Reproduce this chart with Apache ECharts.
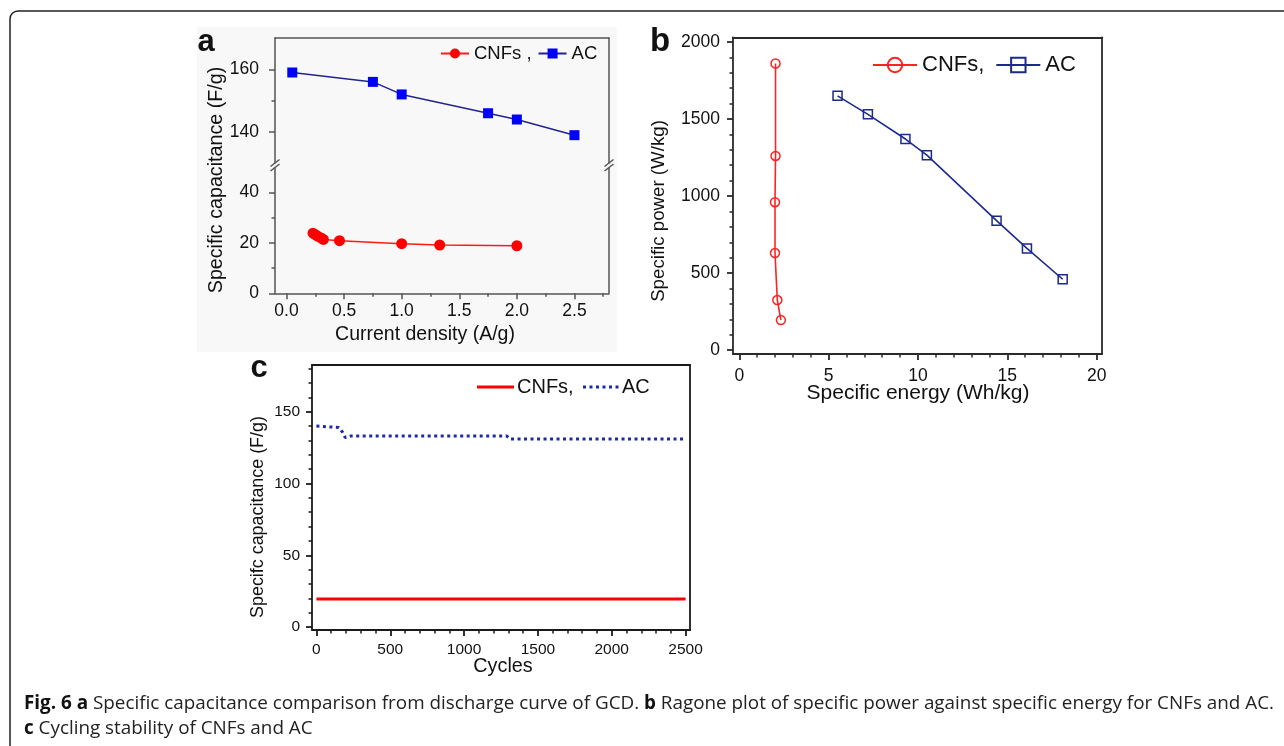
<!DOCTYPE html>
<html>
<head>
<meta charset="utf-8">
<script src="https://cdn.jsdelivr.net/npm/echarts@6/dist/echarts.min.js"></script>
<style>html,body{margin:0;padding:0;background:#fff;}#main{width:1284px;height:746px;}</style>
</head>
<body>
<div id="main"></div>
<script>
// ---------- data ----------
// Panel a: specific capacitance vs current density
const aCurrentCNF = [0.23, 0.25, 0.27, 0.30, 0.32, 0.46, 1.0, 1.33, 2.0];
const aCapCNF     = [23.9, 23.3, 22.7, 22.0, 21.4, 20.9, 19.7, 19.2, 18.9];
const aCurrentAC  = [0.05, 0.75, 1.0, 1.75, 2.0, 2.5];
const aCapAC      = [159, 156, 152, 146, 144, 139];
// Panel b: Ragone plot
const bEnergyCNF  = [2.03, 2.03, 2.0, 2.0, 2.13, 2.33];
const bPowerCNF   = [1860, 1260, 960, 630, 325, 195];
const bEnergyAC   = [5.5, 7.2, 9.3, 10.5, 14.4, 16.1, 18.1];
const bPowerAC    = [1650, 1530, 1370, 1265, 840, 660, 460];
// Panel c: cycling stability
const cCyclesCNF  = [0, 2500];
const cCapCNF     = [19.5, 19.5];
const cCyclesAC   = [0, 150, 175, 195, 230, 1290, 1310, 2500];
const cCapAC      = [140, 139, 136, 132, 133, 133, 131, 131];
// tick labels
const aXTicks = [0, 0.5, 1.0, 1.5, 2.0, 2.5];
const aYTicksHigh = [140, 160];
const aYTicksLow = [0, 20, 40];
const bXTicks = [0, 5, 10, 15, 20];
const bYTicks = [0, 500, 1000, 1500, 2000];
const cXTicks = [0, 500, 1000, 1500, 2000, 2500];
const cYTicks = [0, 50, 100, 150];
const aXMinor = [0.25, 0.75, 1.25, 1.75, 2.25, 2.75];
const aYMinorHigh = [150];
const aYMinorLow = [10, 30];

function minorTicks(start, end, step, majors) {
  const out = [];
  for (let v = start; v <= end + 1e-9; v += step) {
    const r = Math.round(v * 1000) / 1000;
    if (!majors.some(m => Math.abs(m - r) < 1e-9)) out.push(r);
  }
  return out;
}
const bXMinor = minorTicks(0, 20, 1, bXTicks);
const bYMinor = minorTicks(0, 2000, 100, bYTicks);
const cXMinor = minorTicks(0, 2500, 100, cXTicks);
const cYMinor = minorTicks(0, 180, 10, cYTicks);

const zip = (xs, ys) => xs.map((x, i) => [x, ys[i]]);

// ---------- layout ----------
const FONT = 'Liberation Sans, Arial, sans-serif';
const grids = [
  {left: 275, top: 38,    width: 334, height: 125.4},  // a upper
  {left: 275, top: 167.5, width: 334, height: 125.8},  // a lower
  {left: 733, top: 37.3,  width: 369, height: 316.7},  // b
  {left: 312, top: 365,   width: 378, height: 265}     // c
];

function lineAxis(extra, color, w) {
  return Object.assign({
    type: 'value', axisLine: {show: true, onZero: false, lineStyle: {color: color, width: w}},
    axisTick: {show: false}, axisLabel: {show: false}, splitLine: {show: false}
  }, extra);
}
function mainAxis(extra, color, w, ticks, fontSize, margin, fmt, tickLen) {
  return Object.assign({
    type: 'value',
    axisLine: {show: true, onZero: false, lineStyle: {color: color, width: w}},
    axisTick: {show: true, length: tickLen || 6, customValues: ticks, lineStyle: {color: color, width: w}},
    axisLabel: {show: true, customValues: ticks, fontSize: fontSize, fontFamily: FONT, color: '#111', margin: margin,
                formatter: fmt || (v => String(v))},
    splitLine: {show: false}
  }, extra);
}
function minorAxis(extra, color, w, ticks, len) {
  return Object.assign({
    type: 'value',
    axisLine: {show: false, onZero: false},
    axisTick: {show: true, length: len || 3, customValues: ticks, lineStyle: {color: color, width: w}},
    axisLabel: {show: false},
    splitLine: {show: false}
  }, extra);
}

const aCol = '#555', bCol = '#2a2a2a', cCol = '#1a1a1a';
const aX = {min: -0.1, max: 2.8};
const bX = {min: -0.35, max: 20.3};
const bY = {min: -25, max: 2030};
const cX = {min: -30, max: 2530};
const cY = {min: -2, max: 182.5};

const xAxis = [
  lineAxis(Object.assign({gridIndex: 0, position: 'top'}, aX), aCol, 1.5),                                      // 0
  mainAxis(Object.assign({gridIndex: 1, position: 'bottom'}, aX), aCol, 1.5, aXTicks, 17.5, 9, v => v.toFixed(1)), // 1
  minorAxis(Object.assign({gridIndex: 1, position: 'bottom'}, aX), aCol, 1.5, aXMinor, 3.5),                     // 2
  mainAxis(Object.assign({gridIndex: 2, position: 'bottom'}, bX), bCol, 1.8, bXTicks, 17.5, 13),                 // 3
  minorAxis(Object.assign({gridIndex: 2, position: 'bottom'}, bX), bCol, 1.5, bXMinor, 3.5),                     // 4
  lineAxis(Object.assign({gridIndex: 2, position: 'top'}, bX), bCol, 1.8),                                        // 5
  mainAxis(Object.assign({gridIndex: 3, position: 'bottom'}, cX), cCol, 1.8, cXTicks, 15.5, 12),                 // 6
  minorAxis(Object.assign({gridIndex: 3, position: 'bottom'}, cX), cCol, 1.5, cXMinor, 3.5),                     // 7
  lineAxis(Object.assign({gridIndex: 3, position: 'top'}, cX), cCol, 1.8)                                         // 8
];
const yAxis = [
  mainAxis({gridIndex: 0, position: 'left', min: 130, max: 170}, aCol, 1.5, aYTicksHigh, 17.5, 16), // 0
  minorAxis({gridIndex: 0, position: 'left', min: 130, max: 170}, aCol, 1.5, aYMinorHigh, 3.5),     // 1
  lineAxis({gridIndex: 0, position: 'right', min: 130, max: 170}, aCol, 1.5),                       // 2
  mainAxis({gridIndex: 1, position: 'left', min: 0, max: 50}, aCol, 1.5, aYTicksLow, 17.5, 16),     // 3
  minorAxis({gridIndex: 1, position: 'left', min: 0, max: 50}, aCol, 1.5, aYMinorLow, 3.5),         // 4
  lineAxis({gridIndex: 1, position: 'right', min: 0, max: 50}, aCol, 1.5),                          // 5
  mainAxis(Object.assign({gridIndex: 2, position: 'left'}, bY), bCol, 1.8, bYTicks, 17.5, 13),      // 6
  minorAxis(Object.assign({gridIndex: 2, position: 'left'}, bY), bCol, 1.5, bYMinor, 3.5),          // 7
  lineAxis(Object.assign({gridIndex: 2, position: 'right'}, bY), bCol, 1.8),                        // 8
  mainAxis(Object.assign({gridIndex: 3, position: 'left'}, cY), cCol, 1.8, cYTicks, 15.5, 12),      // 9
  minorAxis(Object.assign({gridIndex: 3, position: 'left'}, cY), cCol, 1.5, cYMinor, 3.5),          // 10
  lineAxis(Object.assign({gridIndex: 3, position: 'right'}, cY), cCol, 1.8)                         // 11
];

const C_RED = '#ff0000', C_DOT = '#1a2aaa';
const series = [
  {name: 'a_CNFs', type: 'line', xAxisIndex: 1, yAxisIndex: 3, data: zip(aCurrentCNF, aCapCNF),
   symbol: 'circle', symbolSize: 11, itemStyle: {color: '#ff0000'}, lineStyle: {color: '#ff1a1a', width: 1.5}},
  {name: 'a_AC', type: 'line', xAxisIndex: 0, yAxisIndex: 0, data: zip(aCurrentAC, aCapAC),
   symbol: 'rect', symbolSize: 10, itemStyle: {color: '#0000ff'}, lineStyle: {color: '#23238f', width: 1.5}},
  {name: 'b_CNFs', type: 'line', xAxisIndex: 3, yAxisIndex: 6, data: zip(bEnergyCNF, bPowerCNF),
   symbol: 'circle', symbolSize: 9, itemStyle: {color: 'rgba(0,0,0,0)', borderColor: '#ff2222', borderWidth: 1.5},
   lineStyle: {color: '#ff2222', width: 1.6}},
  {name: 'b_AC', type: 'line', xAxisIndex: 3, yAxisIndex: 6, data: zip(bEnergyAC, bPowerAC),
   symbol: 'rect', symbolSize: 9, itemStyle: {color: 'rgba(0,0,0,0)', borderColor: '#1c2a8c', borderWidth: 1.5},
   lineStyle: {color: '#1c2a8c', width: 1.6}},
  {name: 'c_CNFs', type: 'line', xAxisIndex: 6, yAxisIndex: 9, data: zip(cCyclesCNF, cCapCNF),
   symbol: 'none', lineStyle: {color: C_RED, width: 3}, itemStyle: {color: C_RED}},
  {name: 'c_AC', type: 'line', xAxisIndex: 6, yAxisIndex: 9, data: zip(cCyclesAC, cCapAC),
   symbol: 'none', lineStyle: {color: C_DOT, width: 3, type: [3, 3.5], cap: 'butt'}, itemStyle: {color: C_DOT}}
];

const legendBase = {orient: 'horizontal', selectedMode: false, padding: 0};
const legends = [
  Object.assign({}, legendBase, {left: 440, top: 44, itemWidth: 28, itemHeight: 12.5, itemGap: 6,
    data: ['a_CNFs', 'a_AC'], textStyle: {fontFamily: FONT, color: '#111', fontSize: 18.5},
    formatter: n => n === 'a_CNFs' ? 'CNFs ,' : 'AC'}),
  Object.assign({}, legendBase, {left: 872, top: 54, itemWidth: 44, itemHeight: 18, itemGap: 11,
    data: ['b_CNFs', 'b_AC'], textStyle: {fontFamily: FONT, color: '#111', fontSize: 22},
    formatter: n => n === 'b_CNFs' ? 'CNFs,' : 'AC'})
];

function title(text, x, y, size, rot) {
  return {type: 'text', x: x, y: y, rotation: rot || 0, z: 10,
    style: {text: text, fontSize: size, fontFamily: FONT, fill: '#111', align: 'center', verticalAlign: 'middle'}};
}
function boldLetter(t, x, y, size) {
  return {type: 'text', x: x, y: y, z: 10,
    style: {text: t, fontSize: size, fontWeight: 'bold', fontFamily: FONT, fill: '#111', align: 'center', verticalAlign: 'middle'}};
}
function seg(x1, y1, x2, y2, col, w, dash) {
  return {type: 'line', z: 12, shape: {x1: x1, y1: y1, x2: x2, y2: y2},
    style: {stroke: col, lineWidth: w, lineDash: dash || null, lineCap: 'butt'}};
}

const captionLine1 = '{b|Fig. 6 a} Specific capacitance comparison from discharge curve of GCD. {b|b} Ragone plot of specific power against specific energy for CNFs and AC.';
const captionLine2 = '{b|c} Cycling stability of CNFs and AC';
const CAP_FONT = 'Open Sans, Noto Sans, sans-serif';
const CAP_SIZE = 18.85;
const capRich = {b: {fontWeight: 'bold', fontSize: CAP_SIZE, fontFamily: CAP_FONT, fill: '#111'}};
const BG = '#f8f8f8';

const graphic = [
  {type: 'rect', z: -5, shape: {x: 197, y: 27, width: 420, height: 325}, style: {fill: BG}},
  {type: 'rect', z: -4, shape: {x: 10, y: 11, width: 1300, height: 800, r: 8}, style: {fill: 'none', stroke: '#222', lineWidth: 1.5}},
  // axis-break marks (panel a)
  {type: 'rect', z: 11, shape: {x: 269, y: 163.4, width: 12, height: 4.1}, style: {fill: BG}},
  {type: 'rect', z: 11, shape: {x: 603, y: 163.4, width: 12, height: 4.1}, style: {fill: BG}},
  seg(270.5, 166.5, 279.5, 159.5, aCol, 1.5), seg(270.5, 171, 279.5, 164, aCol, 1.5),
  seg(604.5, 166.5, 613.5, 159.5, aCol, 1.5), seg(604.5, 171, 613.5, 164, aCol, 1.5),
  // panel letters
  boldLetter('a', 206, 42, 31),
  boldLetter('b', 660, 42, 33),
  boldLetter('c', 259, 368, 31),
  // axis titles
  title('Specific capacitance (F/g)', 216.5, 180, 19.7, Math.PI / 2),
  title('Current density (A/g)', 425, 335, 19.5),
  title('Specific power (W/kg)', 659, 211, 18.7, Math.PI / 2),
  title('Specific energy (Wh/kg)', 918, 393, 21),
  title('Specifc capacitance (F/g)', 258.5, 517, 17.9, Math.PI / 2),
  title('Cycles', 503, 667, 19.8),
  // legend of panel c (plain line keys)
  seg(477, 387, 514, 387, C_RED, 3),
  {type: 'text', x: 517, y: 387, z: 12, style: {text: 'CNFs,', fontSize: 20, fontFamily: FONT, fill: '#111', align: 'left', verticalAlign: 'middle'}},
  seg(583, 387, 620, 387, C_DOT, 3, [3, 3.5]),
  {type: 'text', x: 622, y: 387, z: 12, style: {text: 'AC', fontSize: 20, fontFamily: FONT, fill: '#111', align: 'left', verticalAlign: 'middle'}},
  // caption
  {type: 'text', x: 24, y: 704, z: 10,
   style: {text: captionLine1, fontSize: CAP_SIZE, fontFamily: CAP_FONT, fill: '#222', align: 'left', verticalAlign: 'middle', rich: capRich}},
  {type: 'text', x: 24, y: 729, z: 10,
   style: {text: captionLine2, fontSize: CAP_SIZE, fontFamily: CAP_FONT, fill: '#222', align: 'left', verticalAlign: 'middle', rich: capRich}}
];

const chart = echarts.init(document.getElementById('main'), null, {renderer: 'canvas'});
chart.setOption({
  animation: false,
  backgroundColor: '#ffffff',
  grid: grids.map(g => Object.assign({show: false, containLabel: false}, g)),
  xAxis: xAxis,
  yAxis: yAxis,
  legend: legends,
  series: series,
  graphic: graphic
});
</script>
</body>
</html>
